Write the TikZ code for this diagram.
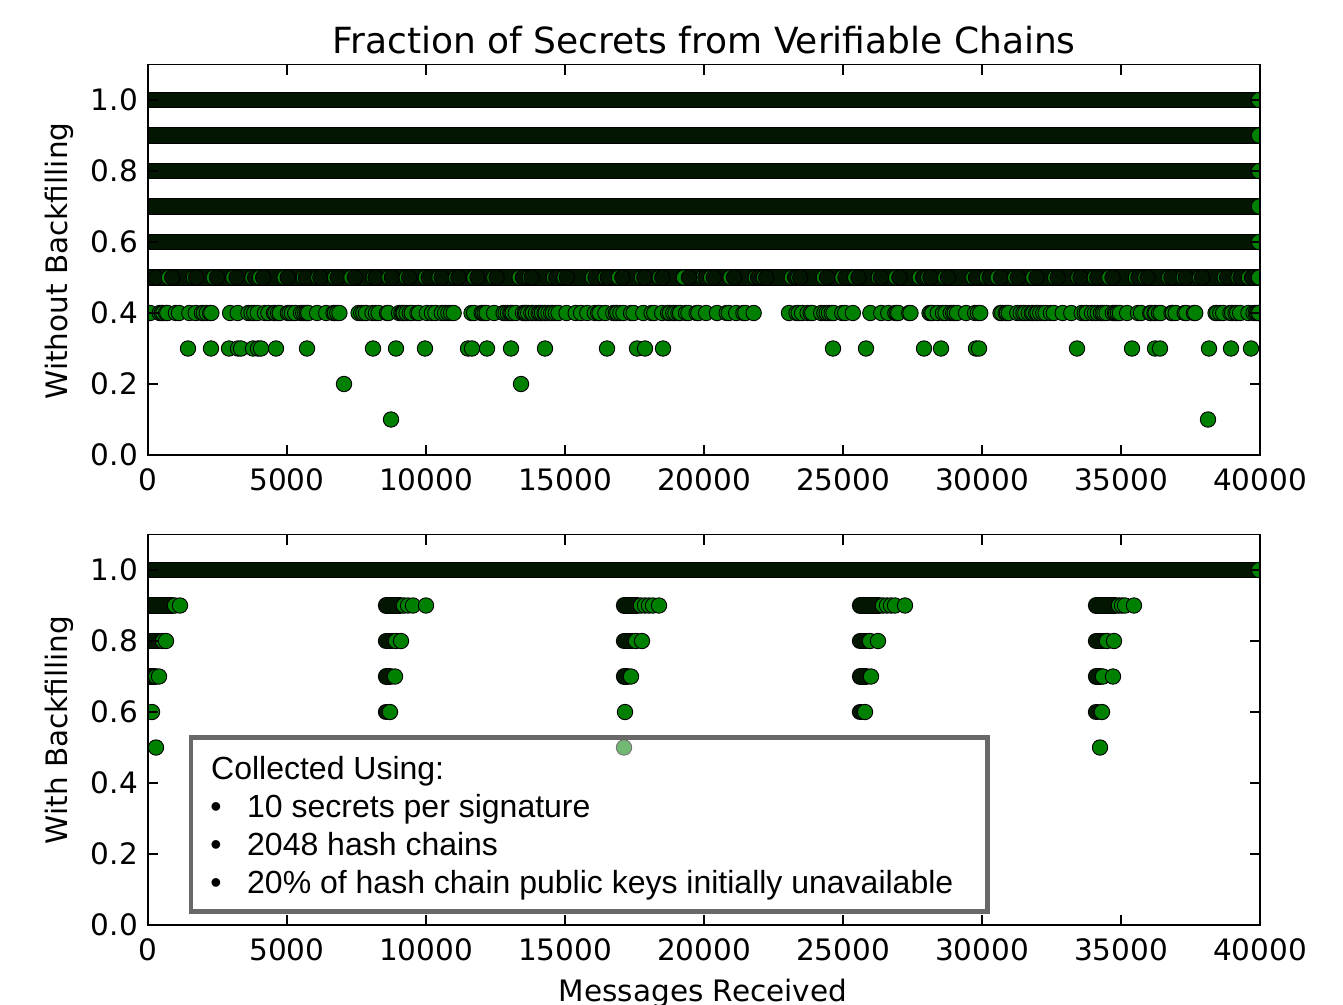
\documentclass[tikz,border=0pt]{standalone}
\usepackage{fontspec}
\setmainfont{DejaVu Sans}
\newfontfamily\libsans{Liberation Sans}
\definecolor{mg}{RGB}{0,128,0}
\definecolor{dk}{RGB}{2,22,2}
\definecolor{legbord}{RGB}{105,105,105}
\tikzset{
  gdot/.style={fill=mg,draw=black,line width=0.9},
  ddot/.style={fill=dk,draw=black,line width=0.9},
  axframe/.style={draw=black,line width=1.6},
  axtick/.style={draw=black,line width=1.1},
  ticklab/.style={inner sep=0pt,font=\fontsize{29.5}{34}\selectfont},
  legtext/.style={inner sep=0pt,anchor=base west,font=\libsans\fontsize{32}{38}\selectfont},
  legbullet/.style={inner sep=0pt,anchor=base,font=\libsans\fontsize{32}{38}\selectfont},
}
\newcommand\bandrow[3]{%
  \draw[black,line width=16.3,line cap=round] (#2,#1)--(#3,#1);
  \draw[dk,line width=14.5,line cap=round] (#2,#1)--(#3,#1);}
\newcommand\dotrow[3]{\foreach \xx in {#3}{\filldraw[#2] (\xx,#1) circle[radius=7.7];}}
\newcommand\clus[4]{\bandrow{#1}{#2}{#3}\dotrow{#1}{gdot}{#4}}
\newcommand\rowfour[2]{%
  \xdef\rfcx{#1}%
  \foreach \i in {1,...,600}{%
    \ifdim\rfcx pt<#2pt
      \filldraw[gdot] (\rfcx,313) circle[radius=7.7];
      \pgfmathsetmacro\rfa{rnd}%
      \pgfmathsetmacro\rfb{rnd}%
      \pgfmathsetmacro\rfst{\rfa<0.015 ? 17+4*\rfb : (\rfa<0.30 ? 5+6*\rfb : 1+2.5*\rfb)}%
      \pgfmathsetmacro\rfnx{\rfcx+\rfst}%
      \xdef\rfcx{\rfnx}%
    \fi
  }}
\newcommand\axesbox[1]{%
  \draw[axframe] (148,64.5+#1) rectangle (1260,455+#1);
  \foreach \k in {1,...,7}{%
    \draw[axtick] (148+139*\k,455+#1)--++(0,-10);
    \draw[axtick] (148+139*\k,64.5+#1)--++(0,10);}
  \foreach \v in {1,...,5}{%
    \draw[axtick] (148,455+#1-71*\v)--++(10,0);
    \draw[axtick] (1260,455+#1-71*\v)--++(-10,0);}
  \foreach \k/\lab in {0/0,1/5000,2/10000,3/15000,4/20000,5/25000,6/30000,7/35000,8/40000}{%
    \node[ticklab,anchor=base] at (148+139*\k,490+#1) {\lab};}
  \foreach \v/\lab in {0/0.0,1/0.2,2/0.4,3/0.6,4/0.8,5/1.0}{%
    \node[ticklab,anchor=base east] at (138,455+#1-71*\v+10.7) {\lab};}
}
\begin{document}
\begin{tikzpicture}[x=1pt,y=-1pt]
\useasboundingbox[fill=white] (0,0) rectangle (1343,1004);
\pgfmathsetseed{42}
% ---------- top plot data ----------
\begin{scope}
\clip (148,64.5) rectangle (1260,455);
\foreach \yy in {100,135.5,171,206.5,242}{\bandrow{\yy}{130}{1259}\dotrow{\yy}{gdot}{1259}}
\bandrow{277.5}{130}{1259}
\foreach \i in {0,...,62}{%
  \pgfmathsetmacro\px{150+\i*18+14*rnd}
  \pgfmathsetmacro\qx{\px+1.8+1.6*rnd}
  \filldraw[gdot] (\px,277.5) circle[radius=7.7];
  \filldraw[ddot] (\qx,277.5) circle[radius=7.7];}
\filldraw[gdot] (684,277.5) circle[radius=7.7];
\filldraw[ddot] (689,277.5) circle[radius=7.7];
\dotrow{277.5}{gdot}{1259}
\rowfour{150}{762}
\rowfour{789}{1262}
\dotrow{313}{gdot}{1259}
\dotrow{348.5}{gdot}{188,211,229,238,241,253,258,261,276,307,373,396,425,468,472,487,511,545,607,637,645,663,833,866,924,941,976,979,1077,1132,1155,1160,1209,1231,1251}
\dotrow{384}{gdot}{344,521}
\dotrow{419.5}{gdot}{391,1208}
\end{scope}
\axesbox{0}
% ---------- bottom plot data ----------
\begin{scope}
\clip (148,534.5) rectangle (1260,925);
\bandrow{570}{130}{1259}\dotrow{570}{gdot}{1259}
% cluster 1
\clus{605.5}{130}{172}{175,180}
\clus{641}{130}{160}{163,166}
\clus{676.5}{130}{154}{156,159}
\dotrow{712}{gdot}{152}
\dotrow{747.5}{gdot}{156}
% cluster 2
\clus{605.5}{386}{400}{404,408,413,426}
\clus{641}{386}{393}{396,401}
\clus{676.5}{386}{390}{395}
\clus{712}{386}{387}{390}
% cluster 3
\clus{605.5}{624}{637}{641,645,649,653,659}
\clus{641}{624}{632}{636,642}
\clus{676.5}{624}{627}{631}
\dotrow{712}{gdot}{625}
\dotrow{747.5}{gdot}{624}
% cluster 4
\clus{605.5}{860}{879}{883,887,891,895,905}
\clus{641}{860}{866}{870,878}
\clus{676.5}{860}{866}{871}
\clus{712}{860}{861}{865}
% cluster 5
\clus{605.5}{1096}{1115}{1119,1122,1125,1134}
\clus{641}{1096}{1104}{1107,1114}
\clus{676.5}{1096}{1100}{1103,1113}
\clus{712}{1096}{1097}{1102}
\dotrow{747.5}{gdot}{1100}
\end{scope}
\axesbox{470}
% ---------- legend box ----------
\filldraw[draw=legbord,line width=4.5,fill=white,fill opacity=0.45] (191,737.5) rectangle (987.5,911.5);
\node[legtext] (lg0) at (211,779) {Collected Using:};
\node[legbullet] (b1) at (216,817) {•};
\node[legtext] (lg1) at (247,817) {10 secrets per signature};
\node[legbullet] (b2) at (216,855) {•};
\node[legtext] (lg2) at (247,855) {2048 hash chains};
\node[legbullet] (b3) at (216,893) {•};
\node[legtext] (lg3) at (247,893) {20\% of hash chain public keys initially unavailable};
% ---------- titles ----------
\node[inner sep=0pt,anchor=base,font=\fontsize{36}{42}\selectfont] (title) at (704,53) {Fraction of Secrets from Verifiable Chains};
\node[inner sep=0pt,rotate=90,font=\fontsize{29.5}{34}\selectfont] (ylab1) at (59,261) {Without Backfilling};
\node[inner sep=0pt,rotate=90,font=\fontsize{29.5}{34}\selectfont] (ylab2) at (59,730) {With Backfilling};
\node[inner sep=0pt,anchor=base,font=\fontsize{29.5}{34}\selectfont] (xlab) at (703,1001) {Messages Received};
\end{tikzpicture}
\end{document}
